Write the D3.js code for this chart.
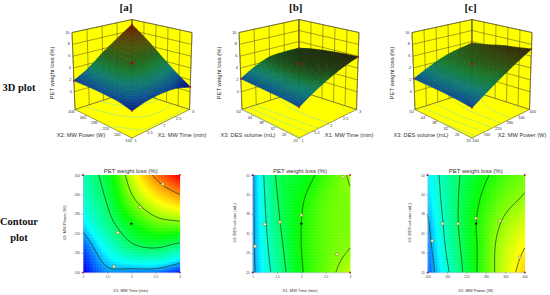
<!DOCTYPE html>
<html><head><meta charset="utf-8">
<script src="https://cdn.jsdelivr.net/npm/d3@7"></script>
<style>html,body{margin:0;padding:0;background:#fff}svg{display:block}</style>
</head><body><svg id="c" width="550" height="295"></svg>
<script>
const panelNames=["[a]","[b]","[c]"];
const responseTitle="PET weight loss (%)";
const timeTicks=[1,1.5,2,2.5,3];
const powerTicks=[100,160,220,280,340,400];
const desTicks=[20,26,32,38,44,50];
const zTicks=[0,2,4,6,8,10];
const timeName="X1: MW Time (min)", powerName="X2: MW Power (W)", desName="X3: DES volume (mL)";
const contourLevels=[2,4,6,8];
const contourLevelsBC=[2,3,4,5,6,7];
// rows: second factor low to high; columns: first factor low to high
const surfaceA=[[1.4,1.9,2.0,1.7,0.8],[1.9,2.9,3.3,3.3,2.6],[2.0,3.4,5.0,4.9,4.7],[2.0,3.4,5.4,6.5,7.0],[1.85,3.3,5.3,7.2,9.1]];
const surfaceB=[[2.0,3.3,4.4,5.3,5.9],[2.15,3.6,4.8,5.4,5.8],[2.2,3.7,4.9,5.4,5.6],[2.2,3.7,4.8,5.2,5.3],[2.2,3.6,4.6,4.8,4.8]];
const surfaceC=[[1.9,3.3,4.7,6.0,7.2],[2.1,3.4,4.9,6.0,6.9],[2.2,3.5,4.9,5.8,6.6],[2.2,3.5,4.8,5.5,6.1],[2.2,3.4,4.5,5.2,5.7]];
const fieldA=[[0.9,1.8,1.7,1.64,1.1],[1.4,2.7,3.7,4.0,3.5],[2.3,3.6,4.8,5.6,5.8],[2.9,4.1,5.8,6.9,7.6],[3.2,4.5,6.5,8.2,9.6]];
const fieldB=[[1.85,3.4,4.92,5.7,6.4],[1.88,3.6,5.0,5.65,6.0],[1.88,3.8,5.0,5.65,5.85],[1.9,3.95,4.9,5.6,5.9],[1.9,4.1,4.6,5.35,6.1]];
const fieldC=[[1.5,3.2,4.95,6.3,7.4],[1.7,3.45,4.95,6.25,7.0],[1.9,3.6,5.0,6.0,6.6],[2.2,3.65,4.85,5.65,6.1],[2.4,3.65,4.6,5.3,5.8]];
const markersA=[[1.64,118],[1.72,222],[2.18,300],[2.65,372]];
const markersB=[[1.05,28],[1.25,34.8],[1.56,35.5],[2.0,37.7],[2.85,49.4],[2.73,25.6]];
const markersC=[[114,29.7],[146,35],[194,35],[249,36.7],[323,35.8],[385,24.6]];
const centers=[[2,250],[2,35],[250,35]];
const surfaceStops=[1.2,2.2,3.2,4.2,5.2,6.5,8,9.5];
const surfaceColors=["#00108c","#0a4f96","#0d7a78","#127a3c","#235f20","#4a5210","#5d2f0a","#6e0a06"];
const fieldStops=[1,2.5,4.9,6.9,9.4];
const fieldColors=["#0000ff","#00ffff","#00ff00","#ffff00","#ff0000"];
const surfaceDarken=[0,0.8,0.7];

const panels=[
 {name:panelNames[0],cx:132,titleX:126,uD:[1,3],vD:[100,400],uT:timeTicks,vT:powerTicks,uN:timeName,vN:powerName,surf:surfaceA,field:fieldA,lv:contourLevels,mk:markersA,cen:centers[0],px:[83,179.7],tx:130.7,ylx:64.3,dark:surfaceDarken[0]},
 {name:panelNames[1],cx:299,titleX:295.7,uD:[1,3],vD:[20,50],uT:timeTicks,vT:desTicks,uN:timeName,vN:desName,surf:surfaceB,field:fieldB,lv:contourLevelsBC,mk:markersB,cen:centers[1],px:[252.7,350],tx:300,ylx:234.3,dark:surfaceDarken[1]},
 {name:panelNames[2],cx:472,titleX:470.7,uD:[100,400],vD:[20,50],uT:powerTicks,vT:desTicks,uN:powerName,vN:desName,surf:surfaceC,field:fieldC,lv:contourLevelsBC,mk:markersC,cen:centers[2],px:[427.7,524.7],tx:475.7,ylx:409.3,dark:surfaceDarken[2]}
];
const svg=d3.select("#c");
const sans="'Liberation Sans',Arial,sans-serif", serif="'Liberation Serif',serif";
const surfColor=d3.scaleLinear().domain(surfaceStops).range(surfaceColors).clamp(true);
const fieldColor=d3.scaleLinear().domain(fieldStops).range(fieldColors).clamp(true);
const zLo=-3;
const zT=d3.scaleLinear().domain([zLo,10]).range([0,1]);

function cr(a,b,c,d,t){return 0.5*(2*b+(c-a)*t+(2*a-5*b+4*c-d)*t*t+(3*b-a-3*c+d)*t*t*t);}
function sampler(g){
 const R=g.length,C=g[0].length;
 const at=(r,c)=>{
   const rr=Math.max(0,Math.min(R-1,r)),cc=Math.max(0,Math.min(C-1,c));
   let v=g[rr][cc];
   if(r<0)v=2*g[0][cc]-g[1][cc]; if(r>=R)v=2*g[R-1][cc]-g[R-2][cc];
   if(c<0)v=2*g[rr][0]-g[rr][1]; if(c>=C)v=2*g[rr][C-1]-g[rr][C-2];
   return v;};
 return (gx,gy)=>{
   const x=gx*(C-1),y=gy*(R-1),c0=Math.min(C-2,Math.floor(x)),r0=Math.min(R-2,Math.floor(y)),tx=x-c0,ty=y-r0;
   const row=r=>cr(at(r,c0-1),at(r,c0),at(r,c0+1),at(r,c0+2),tx);
   return cr(row(r0-1),row(r0),row(r0+1),row(r0+2),ty);};
}
function ringSegs(coords,n){
 const segs=[];let cur=[];
 const edge=p=>p[0]<=0.5||p[0]>=n-0.5||p[1]<=0.5||p[1]>=n-0.5;
 for(let i=0;i<coords.length;i++){
  const p=coords[i],q=coords[i+1];
  if(!q)break;
  if(edge(p)&&edge(q)){if(cur.length){segs.push(cur);cur=[];}continue;}
  if(!cur.length)cur.push(p);
  cur.push(q);
 }
 if(cur.length)segs.push(cur);
 return segs;
}
function contourLines(g,levels,n){
 const s=sampler(g),vals=new Array(n*n);
 for(let j=0;j<n;j++)for(let i=0;i<n;i++)vals[j*n+i]=s(i/(n-1),j/(n-1));
 const cs=d3.contours().size([n,n]).smooth(true).thresholds(levels)(vals);
 const out=[];
 cs.forEach(c=>c.coordinates.forEach(poly=>poly.forEach(ring=>ringSegs(ring,n).forEach(seg=>out.push({level:c.value,seg})))));
 return out;
}

panels.forEach(p=>{
 const cx=p.cx;
 const fl={F:[cx,138],R:[cx+57.5,109.5],L:[cx-57,109.5],B:[cx,91]};
 const tp={F:[cx,58],R:[cx+60,32.5],L:[cx-60,32.5],B:[cx,19.5]};
 const bil=(c,u,v)=>[0,1].map(k=>c.F[k]*(1-u)*(1-v)+c.R[k]*u*(1-v)+c.L[k]*(1-u)*v+c.B[k]*u*v);
 const proj=(u,v,z)=>{const a=bil(fl,u,v),b=bil(tp,u,v),t=zT(z);return [a[0]+(b[0]-a[0])*t,a[1]+(b[1]-a[1])*t];};
 const uS=d3.scaleLinear().domain(p.uD).range([0,1]), vS=d3.scaleLinear().domain(p.vD).range([0,1]);
 const line=d3.line();
 const g=svg.append("g");
 const wall="#5a5520";
 g.append("path").attr("d",line([fl.L,tp.L,tp.B,fl.B])+"Z").attr("fill","#ffff00").attr("stroke",wall).attr("stroke-width",.6);
 g.append("path").attr("d",line([fl.R,tp.R,tp.B,fl.B])+"Z").attr("fill","#ffff00").attr("stroke",wall).attr("stroke-width",.6);
 g.append("path").attr("d",line([fl.L,fl.F,fl.R,fl.B])+"Z").attr("fill","#ffff00").attr("stroke",wall).attr("stroke-width",.6);
 zTicks.forEach(z=>{
  g.append("path").attr("d",line([proj(0,1,z),proj(1,1,z),proj(1,0,z)])).attr("fill","none").attr("stroke",wall).attr("stroke-width",.55);
  const q=proj(0,1,z);
  g.append("text").attr("x",q[0]-2.5).attr("y",q[1]+1).attr("text-anchor","end").attr("font-family",sans).attr("font-size",3.9).attr("fill","#333").text(z);
 });
 p.uT.forEach(t=>{const u=uS(t);
  g.append("path").attr("d",line([proj(u,1,zLo),proj(u,1,10)])).attr("stroke",wall).attr("stroke-width",.55).attr("fill","none");
  const q=proj(u,0,zLo);
  g.append("path").attr("d",line([q,[q[0]+1.5,q[1]+.7]])).attr("stroke","#555").attr("stroke-width",.4);
  g.append("text").attr("x",q[0]+3.5).attr("y",q[1]+3.5).attr("font-family",sans).attr("font-size",3.9).attr("text-anchor","middle").attr("fill","#333").text(t);
 });
 p.vT.forEach(t=>{const v=vS(t);
  g.append("path").attr("d",line([proj(1,v,zLo),proj(1,v,10)])).attr("stroke",wall).attr("stroke-width",.55).attr("fill","none");
  const q=proj(0,v,zLo);
  g.append("path").attr("d",line([q,[q[0]-1.5,q[1]+.7]])).attr("stroke","#555").attr("stroke-width",.4);
  g.append("text").attr("x",q[0]-3.5).attr("y",q[1]+3.5).attr("font-family",sans).attr("font-size",3.9).attr("text-anchor","middle").attr("fill","#333").text(t);
 });
 const n=64;
 contourLines(p.field,p.lv,n).forEach(d=>{
  const pts=d.seg.map(q=>bil(fl,Math.max(0,Math.min(1,(q[0]-.5)/(n-1))),Math.max(0,Math.min(1,(q[1]-.5)/(n-1)))));
  g.append("path").attr("d",line(pts)).attr("fill","none").attr("stroke","#9fe39a").attr("stroke-width",.7);
 });
 const S=sampler(p.surf),N=30;
 const zHi=d3.max(p.surf.flat());
 const cellColor=(i,j)=>{const z=S((i+.5)/N,(j+.5)/N),k=Math.max(0,Math.min(1,(z-(zHi-2.2))/2.2))*p.dark;
   return d3.interpolateRgb(surfColor(z),"#14140c")(k);};
 const cells=[];
 for(let j=0;j<N;j++)for(let i=0;i<N;i++)cells.push([i,j]);
 cells.sort((a,b)=>(b[0]+b[1])-(a[0]+a[1]));
 g.append("g").selectAll("path").data(cells).join("path")
  .attr("d",([i,j])=>{const u0=i/N,u1=(i+1)/N,v0=j/N,v1=(j+1)/N;
    return line([proj(u0,v0,S(u0,v0)),proj(u1,v0,S(u1,v0)),proj(u1,v1,S(u1,v1)),proj(u0,v1,S(u0,v1))])+"Z";})
  .attr("fill",([i,j])=>cellColor(i,j))
  .attr("stroke",([i,j])=>cellColor(i,j)).attr("stroke-width",.5);
 [[0,0],[1,0],[0,1],[1,1]].forEach(([u,v])=>{const q=proj(u,v,S(u,v));
  g.append("circle").attr("cx",q[0]).attr("cy",q[1]).attr("r",.9).attr("fill","#c01010");});
 const cq=proj(.5,.5,S(.5,.5)+.3);
 g.append("circle").attr("cx",cq[0]).attr("cy",cq[1]).attr("r",1.4).attr("fill","#a00f0f");
 svg.append("text").attr("x",p.titleX).attr("y",10.5).attr("text-anchor","middle").attr("font-family",serif).attr("font-weight","bold").attr("font-size",11).attr("fill","#111").text(p.name);
 svg.append("text").attr("transform",`translate(${cx-78.5},73) rotate(-90)`).attr("text-anchor","middle").attr("font-family",sans).attr("font-size",5.9).attr("fill","#333").text(responseTitle);
 svg.append("text").attr("x",cx-51).attr("y",137).attr("text-anchor","middle").attr("font-family",sans).attr("font-size",5.7).attr("fill","#333").text(p.vN);
 svg.append("text").attr("x",cx+50).attr("y",137).attr("text-anchor","middle").attr("font-family",sans).attr("font-size",5.7).attr("fill","#333").text(p.uN);

 const x=d3.scaleLinear().domain(p.uD).range(p.px), y=d3.scaleLinear().domain(p.vD).range([272.3,175]);
 const G=svg.append("g");
 const M=65,F=sampler(p.field),cells2=[];
 for(let j=0;j<M;j++)for(let i=0;i<M;i++)cells2.push([i,j]);
 const gx=d3.scaleLinear().domain([0,M]).range(p.px), gy=d3.scaleLinear().domain([0,M]).range([272.3,175]);
 G.append("g").selectAll("rect").data(cells2).join("rect")
  .attr("x",d=>gx(d[0])).attr("y",d=>gy(d[1]+1)).attr("width",gx(1)-gx(0)+.4).attr("height",gy(0)-gy(1)+.4)
  .attr("fill",d=>fieldColor(F((d[0]+.5)/M,(d[1]+.5)/M)));
 contourLines(p.field,p.lv,n).forEach(d=>{
  const pts=d.seg.map(q=>[gx(Math.max(0,Math.min(1,(q[0]-.5)/(n-1)))*M),gy(Math.max(0,Math.min(1,(q[1]-.5)/(n-1)))*M)]);
  G.append("path").attr("d",line(pts)).attr("fill","none").attr("stroke","#1f3d14").attr("stroke-width",.75);
 });
 const ax=G.append("g").attr("transform","translate(0,272.3)").call(d3.axisBottom(x).tickValues(p.uT).tickSize(1.5).tickPadding(2).tickFormat(d3.format("")));
 const ay=G.append("g").attr("transform",`translate(${p.px[0]},0)`).call(d3.axisLeft(y).tickValues(p.vT).tickSize(1.5).tickPadding(1.5).tickFormat(d3.format("")));
 [ax,ay].forEach(a=>{a.select(".domain").attr("stroke","#b9a8e6").attr("stroke-width",.5);
  a.selectAll("line").attr("stroke","#444").attr("stroke-width",.4);
  a.selectAll("text").attr("font-family",sans).attr("font-size",3.2).attr("fill","#445");});
 [[p.uD[0],p.vD[0]],[p.uD[1],p.vD[0]],[p.uD[0],p.vD[1]],[p.uD[1],p.vD[1]]].forEach(c=>{
  G.append("circle").attr("cx",x(c[0])).attr("cy",y(c[1])).attr("r",.9).attr("fill","#b01030");});
 p.mk.forEach(m=>{
  G.append("circle").attr("cx",x(m[0])).attr("cy",y(m[1])).attr("r",1.5).attr("fill","#f5f5c0").attr("stroke","#806a20").attr("stroke-width",.5);});
 G.append("circle").attr("cx",x(p.cen[0])).attr("cy",y(p.cen[1])).attr("r",1.2).attr("fill","#101010");
 G.append("text").attr("x",p.tx).attr("y",172.6).attr("text-anchor","middle").attr("font-family",sans).attr("font-size",6).attr("fill","#333").text(responseTitle);
 G.append("text").attr("x",p.tx).attr("y",292.3).attr("text-anchor","middle").attr("font-family",sans).attr("font-size",4.1).attr("fill","#333").text(p.uN);
 G.append("text").attr("transform",`translate(${p.ylx+1.2},223) rotate(-90)`).attr("text-anchor","middle").attr("font-family",sans).attr("font-size",4.1).attr("fill","#333").text(p.vN);
});
const rowLabel=(t,x,y)=>svg.append("text").attr("x",x).attr("y",y).attr("font-family",serif).attr("font-weight","bold").attr("font-size",10.5).attr("text-anchor","middle").attr("fill","#111").text(t);
rowLabel("3D plot",19,90.5);rowLabel("Contour",19,225);rowLabel("plot",19,241);
</script></body></html>
